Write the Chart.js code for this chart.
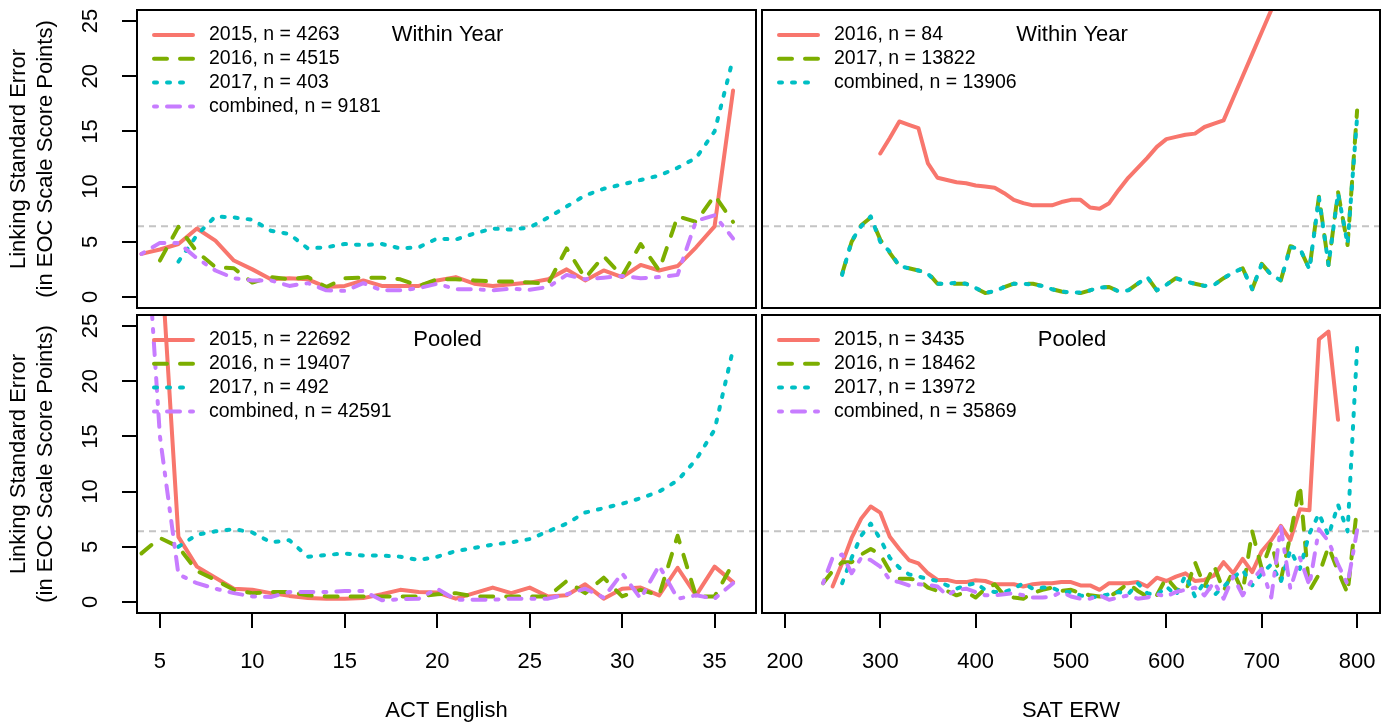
<!DOCTYPE html>
<html>
<head>
<meta charset="utf-8">
<title>Linking Standard Error</title>
<script src="https://cdn.jsdelivr.net/npm/chart.js@4.4.1/dist/chart.umd.min.js"></script>
<style>
  body { margin: 0; background: #fff; width: 1394px; height: 726px; position: relative; overflow: hidden; }
  canvas { position: absolute; }
</style>
</head>
<body>
<canvas id="tl" width="758" height="312" style="left:0;top:0"></canvas>
<canvas id="tr" width="636" height="312" style="left:758px;top:0"></canvas>
<canvas id="bl" width="758" height="414" style="left:0;top:312px"></canvas>
<canvas id="br" width="636" height="414" style="left:758px;top:312px"></canvas>
<script>
// x categories
const actScores = [4,5,6,7,8,9,10,11,12,13,14,15,16,17,18,19,20,21,22,23,24,25,26,27,28,29,30,31,32,33,34,35,36];
const satScores = [240,250,260,270,280,290,300,310,320,330,340,350,360,370,380,390,400,410,420,430,440,450,460,470,480,490,500,510,520,530,540,550,560,570,580,590,600,610,620,630,640,650,660,670,680,690,700,710,720,730,740,750,760,770,780,790,800];

// tick labels
const actTicks = [5, 10, 15, 20, 25, 30, 35];
const satTicks = [200, 300, 400, 500, 600, 700, 800];
const yTicks = [0, 5, 10, 15, 20, 25];
const refLine = 6.4;

// ACT English, within year
const actWithinLabels = ["2015, n = 4263", "2016, n = 4515", "2017, n = 403", "combined, n = 9181"];
const actWithin2015 = [3.9, 4.3, 4.8, 6.2, 5.1, 3.3, 2.5, 1.6, 1.7, 1.6, 0.9, 1.0, 1.5, 1.0, 1.0, 1.0, 1.5, 1.8, 1.2, 1.0, 1.15, 1.3, 1.6, 2.5, 1.5, 2.4, 1.8, 2.9, 2.4, 2.8, 4.5, 6.4, 18.7];
const actWithin2016 = [null, 3.3, 6.35, 4.1, 2.7, 2.6, 1.3, 1.8, 1.6, 1.8, 0.9, 1.7, 1.75, 1.75, 1.6, 1.0, 1.6, 1.6, 1.5, 1.4, 1.4, 1.3, 1.2, 4.4, 1.7, 3.7, 1.9, 4.8, 2.4, 7.3, 6.8, 9.2, 6.8];
const actWithin2017 = [null, null, 3.2, 5.6, 7.3, 7.2, 7.0, 6.0, 5.7, 4.4, 4.5, 4.8, 4.7, 4.8, 4.4, 4.5, 5.3, 5.2, 5.75, 6.2, 6.1, 6.3, 7.2, 8.2, 9.2, 9.8, 10.2, 10.6, 11.0, 11.7, 12.6, 15.0, 21.6];
const actWithinComb = [3.9, 4.9, 4.9, 3.5, 2.4, 1.7, 1.5, 1.5, 1.0, 1.25, 0.6, 0.55, 1.25, 0.6, 0.6, 0.8, 1.2, 0.7, 0.7, 0.6, 0.75, 0.65, 0.9, 2.0, 1.6, 1.75, 1.9, 1.7, 1.8, 2.0, 6.9, 7.4, 5.3];

// SAT ERW, within year
const satWithinLabels = ["2016, n = 84", "2017, n = 13822", "combined, n = 13906"];
const satWithin2016 = [null, null, null, null, null, null, 13.0, 14.4, 15.9, 15.6, 15.3, 12.1, 10.8, 10.6, 10.4, 10.3, 10.1, 10.0, 9.9, 9.4, 8.8, 8.5, 8.3, 8.3, 8.3, 8.6, 8.8, 8.8, 8.1, 8.0, 8.5, 9.7, 10.8, 11.7, 12.6, 13.6, 14.3, 14.5, 14.7, 14.8, 15.4, 15.7, 16.0, 18.0, 20.0, 22.0, 24.0, 26.0, 28.0, null, null, null, null, null, null, null, null];
const satWithin2017 = [null, null, 2.1, 5.0, 6.5, 7.2, 5.2, 4.0, 2.8, 2.6, 2.4, 2.2, 1.2, 1.2, 1.2, 1.2, 0.8, 0.35, 0.5, 0.9, 1.2, 1.2, 1.2, 1.0, 0.7, 0.5, 0.35, 0.35, 0.6, 0.85, 0.9, 0.5, 0.6, 1.2, 1.8, 0.6, 1.1, 1.7, 1.4, 1.2, 1.0, 1.1, 1.7, 2.2, 2.6, 0.7, 3.0, 2.0, 1.5, 4.6, 4.4, 2.5, 9.1, 2.9, 9.5, 4.7, 16.9];
const satWithinComb = [null, null, 2.0, 5.1, 6.4, 7.3, 5.0, 4.1, 2.8, 2.6, 2.4, 2.1, 1.2, 1.2, 1.3, 1.2, 0.8, 0.4, 0.5, 0.9, 1.2, 1.2, 1.1, 1.0, 0.7, 0.5, 0.4, 0.4, 0.6, 0.85, 0.9, 0.5, 0.6, 1.2, 1.8, 0.6, 1.1, 1.7, 1.4, 1.2, 1.0, 1.1, 1.7, 2.2, 2.6, 0.7, 3.0, 2.0, 1.5, 4.5, 4.4, 2.5, 9.0, 2.9, 9.4, 4.8, 16.3];

// ACT English, pooled
const actPooledLabels = ["2015, n = 22692", "2016, n = 19407", "2017, n = 492", "combined, n = 42591"];
const actPooled2015 = [null, 33, 5.9, 3.2, 2.2, 1.2, 1.1, 0.8, 0.55, 0.35, 0.3, 0.3, 0.35, 0.7, 1.1, 0.9, 0.85, 0.3, 0.8, 1.3, 0.8, 1.3, 0.5, 0.6, 1.6, 0.3, 1.2, 1.3, 0.6, 3.1, 0.6, 3.2, 1.8];
const actPooled2016 = [4.4, 5.8, 5.0, 2.8, 2.0, 1.1, 0.8, 0.9, 0.9, 0.6, 0.5, 0.5, 0.5, 0.5, 0.5, 0.5, 0.7, 0.8, 0.5, 0.5, 0.5, 0.5, 0.5, 1.9, 0.8, 2.2, 0.5, 1.1, 0.6, 6.0, 0.5, 0.5, 3.5];
const actPooled2017 = [null, null, 5.0, 6.1, 6.4, 6.6, 6.3, 5.4, 5.6, 4.1, 4.25, 4.4, 4.2, 4.2, 4.1, 3.8, 4.1, 4.6, 4.9, 5.2, 5.4, 5.7, 6.4, 7.1, 8.1, 8.5, 8.9, 9.4, 10.0, 11.0, 12.9, 15.6, 22.9];
const actPooledComb = [41, 15, 2.5, 1.7, 1.2, 0.8, 0.5, 0.45, 0.9, 0.9, 0.9, 1.0, 1.0, 0.15, 0.25, 0.3, 1.2, 0.2, 0.2, 0.2, 0.3, 0.3, 0.3, 0.7, 1.2, 0.4, 2.6, 0.3, 3.3, 0.3, 0.6, 0.3, 1.7];

// SAT ERW, pooled
const satPooledLabels = ["2015, n = 3435", "2016, n = 18462", "2017, n = 13972", "combined, n = 35869"];
const satPooled2015 = [null, 1.4, 3.5, 5.8, 7.55, 8.65, 8.1, 5.9, 4.8, 3.8, 3.5, 2.6, 2.0, 2.0, 1.8, 1.8, 1.97, 1.9, 1.6, 1.6, 1.6, 1.4, 1.6, 1.7, 1.7, 1.8, 1.8, 1.5, 1.5, 1.1, 1.7, 1.7, 1.7, 1.8, 1.4, 2.2, 1.9, 2.3, 2.6, 1.9, 2.0, 2.4, 3.6, 2.6, 3.9, 2.7, 4.6, 5.6, 6.9, 5.6, 8.4, 8.3, 23.8, 24.5, 16.5, null, null];
const satPooled2016 = [1.7, 2.8, 3.6, 3.6, 4.3, 4.8, 4.3, 2.8, 2.1, 2.1, 2.0, 1.3, 1.0, 1.0, 0.6, 0.9, 0.4, 1.2, 1.6, 0.6, 0.4, 0.3, 0.8, 1.1, 1.3, 1.0, 1.1, 0.8, 0.6, 0.5, 0.5, 1.0, 1.7, 1.0, 0.5, 0.6, 2.2, 1.2, 0.8, 3.6, 1.4, 3.3, 1.0, 2.8, 0.9, 6.4, 3.0, 5.4, 2.0, 6.0, 10.6, 1.0, 2.5, 5.0, 2.8, 0.8, 8.6];
const satPooled2017 = [null, null, 1.7, 4.0, 6.0, 7.1, 5.7, 4.0, 3.1, 2.5, 2.3, 2.1, 1.9, 1.5, 1.2, 1.5, 1.7, 1.1, 0.9, 0.9, 1.2, 1.7, 1.2, 1.3, 1.3, 0.9, 0.9, 0.6, 0.4, 0.5, 0.7, 0.9, 0.7, 1.7, 0.8, 0.6, 1.4, 0.6, 2.4, 0.5, 1.8, 0.6, 1.4, 2.2, 2.9, 1.5, 2.6, 3.4, 1.8, 4.7, 3.0, 6.2, 8.0, 6.0, 8.8, 6.4, 23.0];
const satPooledComb = [1.7, 4.0, 4.3, 2.6, 4.0, 3.8, 3.2, 2.0, 1.8, 1.5, 1.6, 1.55, 1.4, 0.6, 1.1, 1.2, 0.9, 0.6, 0.6, 0.7, 0.8, 0.6, 0.4, 0.4, 0.5, 0.9, 0.5, 0.3, 0.3, 0.6, 0.2, 0.4, 0.6, 0.3, 0.4, 0.7, 0.5, 0.9, 1.1, 1.3, 0.6, 1.8, 0.3, 2.3, 0.6, 2.0, 3.0, 0.4, 6.8, 1.2, 4.0, 1.5, 6.6, 5.5, 3.4, 1.6, 6.5];

const yTitle = ["Linking Standard Error", "(in EOC Scale Score Points)"];
const FONT = '"Liberation Sans", Arial, sans-serif';

Chart.defaults.font.family = FONT;
Chart.defaults.color = "#000";

// solid, dashed, dotted, dot-dash (R lty 1..4)
const lineStyles = [
  { color: "#F8766D", dash: [] },
  { color: "#7CAE00", dash: [13, 13] },
  { color: "#00BFC4", dash: [3, 10] },
  { color: "#C77CFF", dash: [3, 10, 13, 10] }
];

function buildDatasets(xs, series, labels, xMin, xMax) {
  const sets = series.map((ys, i) => ({
    label: labels[i],
    data: xs.map((x, j) => ({ x: x, y: ys[j] })),
    borderColor: lineStyles[i].color,
    borderDash: lineStyles[i].dash,
    borderWidth: 4,
    borderCapStyle: "round",
    borderJoinStyle: "round",
    pointRadius: 0,
    tension: 0,
    clip: 0,
    order: 4 - i
  }));
  // grey reference line
  sets.push({
    label: "",
    isRef: true,
    data: [{ x: xMin, y: refLine }, { x: xMax, y: refLine }],
    borderColor: "#C4C4C4",
    borderDash: [7, 5],
    borderWidth: 2,
    pointRadius: 0,
    clip: 0,
    order: 10
  });
  return sets;
}

// box, legend, panel label, rotated y ticks and y title
const panelDecor = {
  id: "panelDecor",
  afterDraw(chart, args, opts) {
    const ctx = chart.ctx;
    const a = chart.chartArea;
    ctx.save();
    ctx.strokeStyle = "#000";
    ctx.lineWidth = 2;
    ctx.setLineDash([]);
    ctx.strokeRect(a.left, a.top, a.right - a.left, a.bottom - a.top);

    ctx.fillStyle = "#000";
    ctx.textBaseline = "middle";
    ctx.textAlign = "center";
    ctx.font = "22px " + FONT;
    ctx.fillText(opts.title, (a.left + a.right) / 2 + 1, a.top + 25);

    ctx.textAlign = "left";
    ctx.font = "19.5px " + FONT;
    let row = 0;
    chart.data.datasets.forEach(ds => {
      if (ds.isRef) return;
      const y = a.top + 25 + row * 23.8;
      ctx.beginPath();
      ctx.strokeStyle = ds.borderColor;
      ctx.lineWidth = ds.borderWidth;
      ctx.lineCap = "round";
      ctx.setLineDash(ds.borderDash);
      ctx.moveTo(a.left + 17, y);
      ctx.lineTo(a.left + 56, y);
      ctx.stroke();
      ctx.setLineDash([]);
      ctx.fillText(ds.label, a.left + 72, y);
      row++;
    });

    if (opts.yLabels) {
      const ys = chart.scales.y;
      ctx.font = "22px " + FONT;
      ctx.textAlign = "center";
      ys.ticks.forEach(t => {
        ctx.save();
        ctx.translate(a.left - 46, ys.getPixelForValue(t.value));
        ctx.rotate(-Math.PI / 2);
        ctx.fillText(String(t.value), 0, 0);
        ctx.restore();
      });
      const cy = (a.top + a.bottom) / 2;
      [19, 46].forEach((x, i) => {
        ctx.save();
        ctx.translate(x, cy);
        ctx.rotate(-Math.PI / 2);
        ctx.fillText(yTitle[i], 0, 0);
        ctx.restore();
      });
    }
    ctx.restore();
  }
};

function makePanel(id, opt) {
  const gridStyle = { drawOnChartArea: false, tickLength: 15, lineWidth: 2, color: "#000" };
  new Chart(document.getElementById(id), {
    type: "line",
    data: { datasets: buildDatasets(opt.xs, opt.series, opt.labels, opt.xMin, opt.xMax) },
    options: {
      responsive: false,
      animation: false,
      events: [],
      layout: { padding: opt.padding, autoPadding: false },
      scales: {
        x: {
          type: "linear",
          min: opt.xMin,
          max: opt.xMax,
          display: opt.showX,
          afterBuildTicks: s => { s.ticks = opt.xTicks.map(v => ({ value: v })); },
          afterFit: s => {
            s.height = opt.showX ? 113 : 0;
            s.paddingLeft = 0;
            s.paddingRight = 0;
          },
          grid: gridStyle,
          border: { display: true, color: "#000", width: 2 },
          ticks: { font: { size: 22 }, color: "#000", padding: 21, maxRotation: 0, autoSkip: false },
          title: { display: true, text: opt.xTitle, font: { size: 22 }, color: "#000", padding: { top: 0, bottom: 2 } }
        },
        y: {
          type: "linear",
          min: -1,
          max: 26,
          display: opt.showY,
          afterBuildTicks: s => { s.ticks = yTicks.map(v => ({ value: v })); },
          afterFit: s => {
            s.width = opt.showY ? 137 : 0;
            s.paddingTop = 0;
            s.paddingBottom = 0;
          },
          grid: gridStyle,
          border: { display: true, color: "#000", width: 2 },
          ticks: { display: false }
        }
      },
      plugins: {
        legend: { display: false },
        tooltip: { enabled: false },
        panelDecor: { title: opt.title, yLabels: opt.showY }
      }
    },
    plugins: [panelDecor]
  });
}

makePanel("tl", {
  xs: actScores, series: [actWithin2015, actWithin2016, actWithin2017, actWithinComb], labels: actWithinLabels,
  xMin: 3.76, xMax: 37.24, xTicks: actTicks, xTitle: "ACT English", title: "Within Year",
  showX: false, showY: true, padding: { top: 10, right: 2, bottom: 4, left: 0 }
});
makePanel("tr", {
  xs: satScores, series: [satWithin2016, satWithin2017, satWithinComb], labels: satWithinLabels,
  xMin: 176, xMax: 824, xTicks: satTicks, xTitle: "SAT ERW", title: "Within Year",
  showX: false, showY: false, padding: { top: 10, right: 14, bottom: 4, left: 4 }
});
makePanel("bl", {
  xs: actScores, series: [actPooled2015, actPooled2016, actPooled2017, actPooledComb], labels: actPooledLabels,
  xMin: 3.76, xMax: 37.24, xTicks: actTicks, xTitle: "ACT English", title: "Pooled",
  showX: true, showY: true, padding: { top: 3, right: 2, bottom: 0, left: 0 }
});
makePanel("br", {
  xs: satScores, series: [satPooled2015, satPooled2016, satPooled2017, satPooledComb], labels: satPooledLabels,
  xMin: 176, xMax: 824, xTicks: satTicks, xTitle: "SAT ERW", title: "Pooled",
  showX: true, showY: false, padding: { top: 3, right: 14, bottom: 0, left: 4 }
});
</script>
</body>
</html>
